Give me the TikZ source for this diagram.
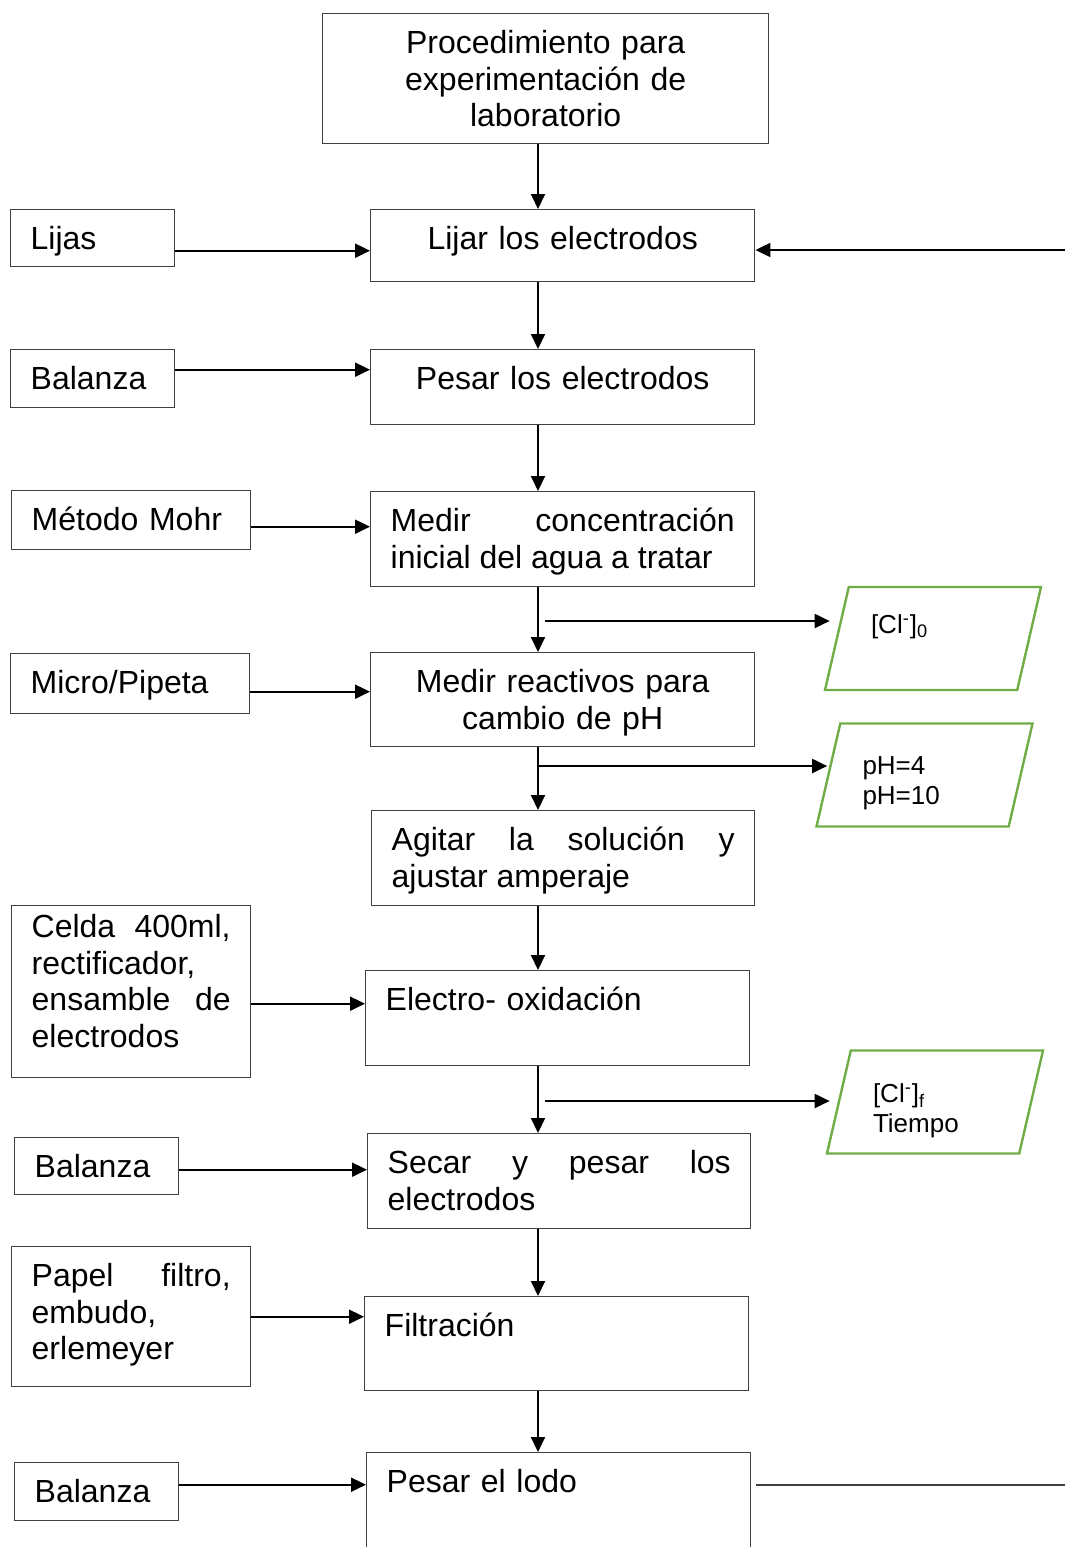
\documentclass[tikz,border=0pt]{standalone}
\usepackage{fontspec}
\setmainfont{Liberation Sans}
\usetikzlibrary{arrows.meta,shapes.geometric}

\definecolor{boxline}{HTML}{404040}
\definecolor{datagreen}{HTML}{70AD47}

\tikzset{
  stepbox/.style = {draw = boxline, line width = 0.7pt, anchor = north west,
    inner xsep = 10pt, inner ysep = 0pt, text height = 20pt,
    font = \fontsize{16}{18.3}\selectfont},
  databox/.style = {draw = datagreen, line width = 1.2pt, trapezium,
    trapezium left angle = 77, trapezium right angle = 103,
    trapezium stretches body, minimum width = 108pt, inner ysep = 0pt,
    text width = 62pt, align = left, font = \fontsize{13}{15}\selectfont},
  flow/.style = {-{Triangle[length = 7.5pt, width = 7pt]}, line width = 1pt},
}

\begin{document}
\begin{tikzpicture}[x = 0.5pt, y = -0.5pt]
    \useasboundingbox (0,0) rectangle (1065,1547);

    \coordinate (spine) at (538,0);

    \node[stepbox, text width = 203pt, text depth = 45pt, align = center] (proc) at (322,13)
      {Procedimiento para\\experimentación de\\laboratorio};

    \node[stepbox, text width = 172pt, text depth = 16pt, align = center] (lijar) at (370,209) {Lijar los electrodos};
    \node[stepbox, text width = 172pt, text depth = 17.5pt, align = center] (pesar) at (370,349) {Pesar los electrodos};
    \node[stepbox, text width = 172pt, text depth = 27.5pt, align = justify] (medir) at (370,491)
      {Medir concentración\linebreak inicial del agua a tratar};
    \node[stepbox, text width = 172pt, text depth = 27pt, align = center] (reactivos) at (370,652)
      {Medir reactivos para\\cambio de pH};
    \node[stepbox, text width = 171.5pt, text depth = 27.5pt, align = justify] (agitar) at (371,810)
      {Agitar la solución y\linebreak ajustar amperaje};
    \node[stepbox, text width = 172pt, text depth = 27.5pt, align = left] (electro) at (365,970) {Electro- oxidación};
    \node[stepbox, text width = 171.5pt, text depth = 27.5pt, align = justify] (secar) at (367,1133)
      {Secar y pesar los\linebreak electrodos};
    \node[stepbox, text width = 172pt, text depth = 27pt, align = left] (filtro) at (364,1296) {Filtración};
    \node[stepbox, text width = 172pt, text depth = 54pt, align = left] (lodo) at (366,1452) {Pesar el lodo};

    \node[stepbox, text width = 62pt, text depth = 8.5pt, align = left] (lijas) at (10,209) {Lijas};
    \node[stepbox, text width = 62pt, text depth = 9pt, align = left] (balanzaA) at (10,349) {Balanza};
    \node[stepbox, text width = 99.5pt, text depth = 9.5pt, align = left] (mohr) at (11,490) {Método Mohr};
    \node[stepbox, text width = 99.5pt, text depth = 10pt, align = left] (pipeta) at (10,653) {Micro/Pipeta};
    \node[stepbox, text width = 99.5pt, text height = 16pt, text depth = 70pt, align = justify] (celda) at (11,905)
      {Celda 400ml,\linebreak rectificador,\\ensamble de\linebreak electrodos};
    \node[stepbox, text width = 62pt, text depth = 8.5pt, align = left] (balanzaB) at (14,1137) {Balanza};
    \node[stepbox, text width = 99.5pt, text depth = 50pt, align = justify] (papel) at (11,1246)
      {Papel filtro,\linebreak embudo,\\erlemeyer};
    \node[stepbox, text width = 62pt, text depth = 9pt, align = left] (balanzaC) at (14,1462) {Balanza};

    \node[databox, text height = 23pt, text depth = 28.5pt] (clcero) at (933,638.5)
      {[Cl\textsuperscript{-}]\textsubscript{0}};
    \node[databox, text height = 25.5pt, text depth = 26pt] (ph) at (924.5,775) {pH=4\\pH=10};
    \node[databox, text height = 26pt, text depth = 25.5pt] (clfinal) at (935,1102)
      {[Cl\textsuperscript{-}]\textsubscript{f}\\Tiempo};

    \draw[flow] (proc.south -| spine) -- (lijar.north -| spine);
    \draw[flow] (lijar.south -| spine) -- (pesar.north -| spine);
    \draw[flow] (pesar.south -| spine) -- (medir.north -| spine);
    \draw[flow] (medir.south -| spine) -- (reactivos.north -| spine);
    \draw[flow] (reactivos.south -| spine) -- (agitar.north -| spine);
    \draw[flow] (agitar.south -| spine) -- (electro.north -| spine);
    \draw[flow] (electro.south -| spine) -- (secar.north -| spine);
    \draw[flow] (secar.south -| spine) -- (filtro.north -| spine);
    \draw[flow] (filtro.south -| spine) -- (lodo.north -| spine);

    \draw[flow] ([yshift=-6.25pt]lijas.east) -- ([yshift=-6.25pt]lijas.east -| lijar.west);
    \draw[flow] ([yshift=4.5pt]balanzaA.east) -- ([yshift=4.5pt]balanzaA.east -| pesar.west);
    \draw[flow] ([yshift=-3.25pt]mohr.east) -- ([yshift=-3.25pt]mohr.east -| medir.west);
    \draw[flow] ([yshift=-4pt]pipeta.east) -- ([yshift=-4pt]pipeta.east -| reactivos.west);
    \draw[flow] ([yshift=-6pt]celda.east) -- ([yshift=-6pt]celda.east -| electro.west);
    \draw[flow] ([yshift=-1.75pt]balanzaB.east) -- ([yshift=-1.75pt]balanzaB.east -| secar.west);
    \draw[flow] (papel.east) -- (papel.east -| filtro.west);
    \draw[flow] ([yshift=3.5pt]balanzaC.east) -- ([yshift=3.5pt]balanzaC.east -| lodo.west);

    \coordinate (ramaA) at (545,621);
    \coordinate (ramaB) at (538,766);
    \coordinate (ramaC) at (545,1101);
    \draw[flow, shorten >=3pt] (ramaA) -- (ramaA -| clcero.west);
    \draw[flow] (ramaB) -- (ramaB -| ph.west);
    \draw[flow, shorten >=4pt] (ramaC) -- (ramaC -| clfinal.west);

    \coordinate (retorno) at (1065,250);
    \coordinate (salida) at (1065,1485);
    \draw[flow] (retorno) -- (retorno -| lijar.east);
    \draw[draw = boxline, line width = 0.7pt] ([xshift=2.5pt]salida -| lodo.east) -- (salida);
\end{tikzpicture}
\end{document}
